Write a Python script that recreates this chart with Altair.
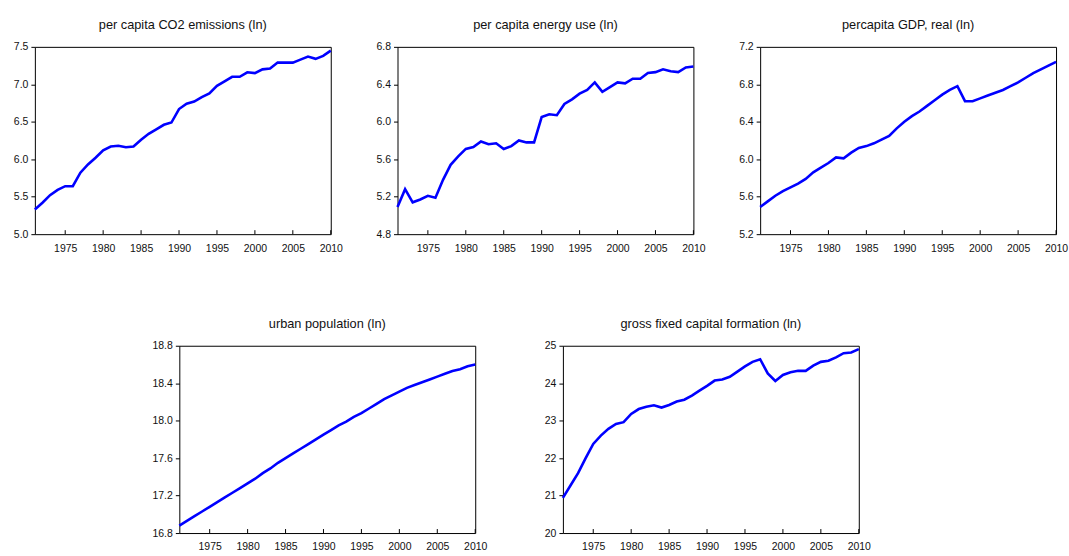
import altair as alt
import pandas as pd

years = list(range(1971, 2011))
tick_years = [1975, 1980, 1985, 1990, 1995, 2000, 2005, 2010]

co2 = [5.33, 5.42, 5.52, 5.59, 5.64, 5.64, 5.82, 5.93, 6.02, 6.12,
       6.17, 6.18, 6.16, 6.17, 6.26, 6.34, 6.40, 6.46, 6.49, 6.67,
       6.74, 6.77, 6.83, 6.88, 6.98, 7.04, 7.10, 7.10, 7.16, 7.15,
       7.20, 7.21, 7.29, 7.29, 7.29, 7.33, 7.37, 7.34, 7.38, 7.45]

energy = [5.09, 5.28, 5.14, 5.17, 5.21, 5.19, 5.38, 5.54, 5.63, 5.71,
          5.73, 5.79, 5.76, 5.77, 5.71, 5.74, 5.80, 5.78, 5.78, 6.05,
          6.08, 6.07, 6.19, 6.24, 6.30, 6.34, 6.42, 6.32, 6.37, 6.42,
          6.41, 6.46, 6.46, 6.52, 6.53, 6.56, 6.54, 6.53, 6.58, 6.59]

gdp = [5.49, 5.55, 5.61, 5.66, 5.70, 5.74, 5.79, 5.86, 5.91, 5.96,
       6.02, 6.01, 6.07, 6.12, 6.14, 6.17, 6.21, 6.25, 6.33, 6.40,
       6.46, 6.51, 6.57, 6.63, 6.69, 6.74, 6.78, 6.62, 6.62, 6.65,
       6.68, 6.71, 6.74, 6.78, 6.82, 6.87, 6.92, 6.96, 7.00, 7.04]

urban = [16.88, 16.93, 16.98, 17.03, 17.08, 17.13, 17.18, 17.23, 17.28, 17.33,
         17.38, 17.44, 17.49, 17.55, 17.60, 17.65, 17.70, 17.75, 17.80, 17.85,
         17.90, 17.95, 17.99, 18.04, 18.08, 18.13, 18.18, 18.23, 18.27, 18.31,
         18.35, 18.38, 18.41, 18.44, 18.47, 18.50, 18.53, 18.55, 18.58, 18.60]

gfcf = [20.94, 21.27, 21.60, 22.00, 22.38, 22.60, 22.78, 22.91, 22.96, 23.18,
        23.31, 23.37, 23.41, 23.35, 23.42, 23.51, 23.56, 23.67, 23.80, 23.93,
        24.07, 24.10, 24.17, 24.31, 24.45, 24.57, 24.64, 24.26, 24.06, 24.22,
        24.29, 24.33, 24.33, 24.47, 24.57, 24.60, 24.69, 24.80, 24.82, 24.91]

titles = ["per capita CO2 emissions (ln)", "per capita energy use (ln)",
          "percapita GDP, real (ln)", "urban population (ln)",
          "gross fixed capital formation (ln)"]

W, H = 297, 188
ticks_df = pd.DataFrame({"year": tick_years})


def panel(values, title, domain, yticks, fmt):
    df = pd.DataFrame({"year": years, "value": values})
    xs = alt.Scale(domain=[1971, 2010], nice=False, zero=False)
    line = alt.Chart(df).mark_line(color="#0000FF", strokeWidth=2.6).encode(
        x=alt.X("year:Q", scale=xs, title=None,
                axis=alt.Axis(values=tick_years, format="d", ticks=False,
                              domain=False, labelPadding=9,
                              labelFlush=False, labelOverlap=False)),
        y=alt.Y("value:Q", scale=alt.Scale(domain=domain, nice=False, zero=False),
                title=None,
                axis=alt.Axis(values=yticks, format=fmt, domain=False,
                              tickSize=4, tickColor="black", labelPadding=3,
                              labelFlush=False, labelOverlap=False)),
    )
    xt = alt.Chart(ticks_df).mark_rule(color="black", strokeWidth=1).encode(
        x=alt.X("year:Q", scale=xs),
        y=alt.value(H - 4),
        y2=alt.value(H),
    )
    return alt.layer(line, xt).properties(
        width=W, height=H, title=alt.TitleParams(title, anchor="middle"))


p1 = panel(co2, titles[0], [5.0, 7.5], [5.0, 5.5, 6.0, 6.5, 7.0, 7.5], ".1f")
p2 = panel(energy, titles[1], [4.8, 6.8], [4.8, 5.2, 5.6, 6.0, 6.4, 6.8], ".1f")
p3 = panel(gdp, titles[2], [5.2, 7.2], [5.2, 5.6, 6.0, 6.4, 6.8, 7.2], ".1f")
p4 = panel(urban, titles[3], [16.8, 18.8], [16.8, 17.2, 17.6, 18.0, 18.4, 18.8], ".1f")
p5 = panel(gfcf, titles[4], [20, 25], [20, 21, 22, 23, 24, 25], "d")

spacer = alt.Chart(pd.DataFrame({"a": [0]}),
                   view=alt.ViewBackground(stroke=None)).mark_point(opacity=0).encode(
    x=alt.X("a:Q", axis=None), y=alt.Y("a:Q", axis=None)
).properties(width=57, height=H)

top = alt.hconcat(p1, p2, p3, spacing=67, bounds="flush")
bottom = alt.hconcat(spacer, p4, p5, spacing=88, bounds="flush")

chart = alt.vconcat(top, bottom, spacing=300, bounds="flush").properties(
    padding={"left": 12, "top": 17, "right": 0, "bottom": 0}
).configure_view(stroke="black", strokeWidth=1).configure_axis(
    grid=False, labelFont="Liberation Sans", labelFontSize=10.5, labelColor="#111"
).configure_title(
    font="Liberation Sans", fontSize=12.8, fontWeight="normal", color="#111", offset=10
)

chart.save("out.html", embed_options={"renderer": "svg", "actions": False})
